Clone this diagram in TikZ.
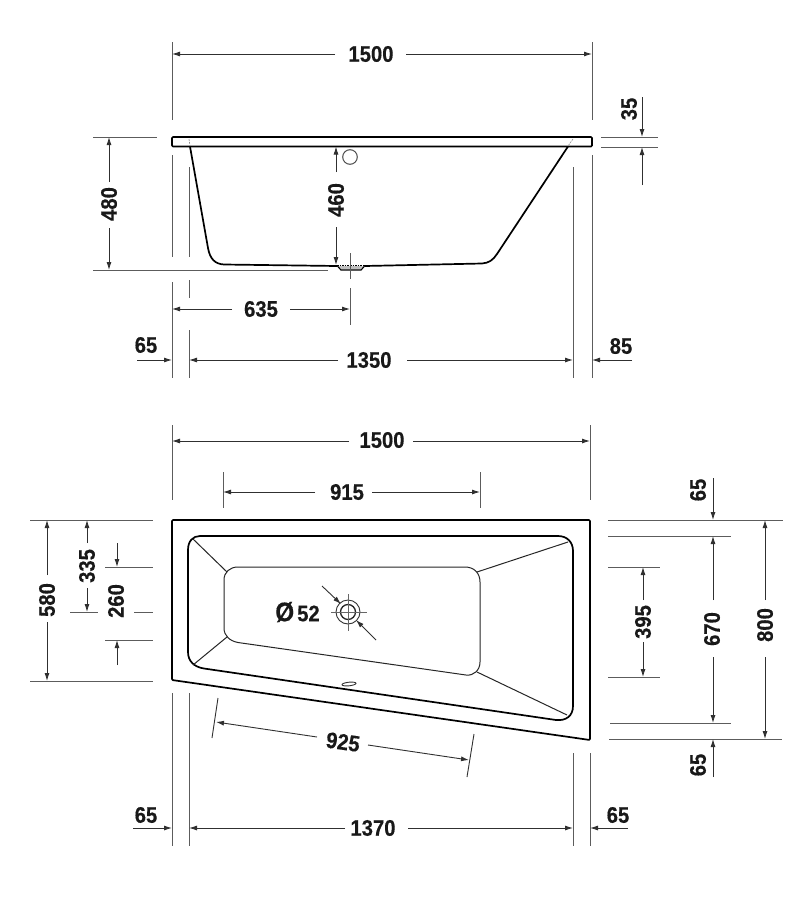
\documentclass[tikz,border=0pt]{standalone}
\usepackage{fontspec}
\setmainfont{Liberation Sans}[FakeStretch=0.9,BoldFeatures={FakeBold=0.35}]
\usetikzlibrary{arrows.meta}
\definecolor{dimc}{HTML}{303030}
\definecolor{extc}{HTML}{5C5C5C}
\tikzset{
  x=1pt,y=-1pt,
  outl/.style={line width=1.7pt,black,line join=round},
  thin outl/.style={line width=1pt,black!85,line join=round},
  ext/.style={line width=1pt,extc},
  dimline/.style={line width=0.9pt,dimc},
  tip/.style={dimline,-{Latex[length=8pt,width=5pt]}},
  lab/.style={font=\fontsize{22.5}{22.5}\selectfont\bfseries,text=black!90,inner sep=0pt},
  vlab/.style={lab,rotate=90},
}
\begin{document}
\begin{tikzpicture}
\useasboundingbox[fill=white] (0,0) rectangle (810,900);

% ---------- side view ----------
\draw[outl,rounded corners=1pt] (172,137) rectangle (592,146.5);
\draw[outl] (190,146.5) -- (208,248) .. controls (210,259) and (215,264) .. (224,264.5)
  -- (337,266);
\draw[outl] (365,266) -- (482,263.5) .. controls (489,263) and (493,260) .. (497,254) -- (568,146.5);
\draw[line width=0.6pt,black!45,dash pattern=on 2pt off 1pt] (189,139) -- (190,146);
\draw[line width=0.6pt,black!45,dash pattern=on 2pt off 1pt] (573,139) -- (568,146);
\fill[black!25] (339,266) -- (342,269.5) -- (360,269.5) -- (363,266) -- cycle;
\draw[line width=1.3pt,black,dash pattern=on 1.6pt off 1pt] (337,265.5) -- (365,265.5);
\draw[line width=1.2pt,black] (337,265.5) -- (341,270) -- (361,270) -- (365,265.5);
\draw[line width=1pt,black!70] (350,157) circle[radius=7.3];

% side-view extension lines
\draw[ext] (172,42) -- (172,120) (592,42) -- (592,120);
\draw[ext] (172,155) -- (172,257) (172,282) -- (172,378);
\draw[ext] (189,167) -- (189,257) (189,280) -- (189,298) (189,330) -- (189,378);
\draw[ext] (573,167) -- (573,378) (592,155) -- (592,378);
\draw[ext] (350,253) -- (350,279) (350,288) -- (350,325);
\draw[ext] (93,137) -- (157,137) (93,270) -- (328,270);
\draw[ext] (601,137) -- (658,137) (601,147) -- (658,147);

\node[lab] (a1500) at (371,54) {1500};
\draw[tip] (335,54) -- (172,54);
\draw[tip] (406,54) -- (592,54);

\node[vlab] (a35) at (629,109) {35};
\draw[tip] (642,97) -- (642,137);
\draw[tip] (642,185) -- (642,147);

\node[vlab] (a480) at (109,204) {480};
\draw[tip] (109,182) -- (109,137);
\draw[tip] (109,228) -- (109,270);

\node[vlab] (a460) at (336,200) {460};
\draw[tip] (336,172) -- (336,146.5);
\draw[tip] (336,227) -- (336,265);

\node[lab] (a635) at (261,309) {635};
\draw[tip] (232,309) -- (172,309);
\draw[tip] (290,309) -- (350,309);

\node[lab] (a65l) at (146,345) {65};
\draw[tip] (137,360) -- (172,360);
\node[lab] (a1350) at (369,360) {1350};
\draw[tip] (338,360) -- (189,360);
\draw[tip] (407,360) -- (573,360);
\node[lab] (a85) at (621,346) {85};
\draw[tip] (632,360) -- (592,360);

% ---------- plan view ----------
\draw[outl,rounded corners=1pt] (172,520) -- (590,520) -- (590,740) -- (172,680) -- cycle;
\draw[outl] (200,536) -- (558,536) .. controls (567,536) and (573,542) .. (573,551)
  -- (573,706) .. controls (573,716) and (566,721) .. (556,720)
  -- (204,668.5) .. controls (194,667) and (188,661) .. (188,652)
  -- (188,550) .. controls (188,541) and (193,536) .. (200,536) -- cycle;
\draw[thin outl] (238,567) -- (465,567) .. controls (474,567) and (480,573) .. (480,582)
  -- (480,662) .. controls (480,670) and (474,676) .. (466,675)
  -- (238,642.5) .. controls (230,641) and (224,636) .. (224,628)
  -- (224,580) .. controls (224,572) and (230,567) .. (238,567) -- cycle;
\draw[thin outl] (193,539) -- (227,572) (193,665) -- (227,637)
  (568,542) -- (477,572) (567,715) -- (477,672);
\draw[line width=0.9pt,black!80,rotate around={6:(349,684)}] (349,684) ellipse[x radius=7,y radius=1.8];

% drain
\draw[line width=0.9pt,black!80] (348,612) circle[radius=12];
\draw[line width=1.3pt,black!85] (348,612) circle[radius=7.5];
\draw[line width=0.7pt,black!60] (331,612) -- (367,612) (348,594) -- (348,631);
\node[lab] (d52) at (297.5,612) {{\fontsize{27}{27}\selectfont Ø}\hspace{3pt}52};
\draw[tip] (322,586) -- (341,604);
\draw[tip] (376,640) -- (356,620);

% plan-view extension lines
\draw[ext] (172,425) -- (172,500) (590,425) -- (590,500);
\draw[ext] (223,472) -- (223,508) (480,472) -- (480,508);
\draw[ext] (172,693) -- (172,846) (189,693) -- (189,846);
\draw[ext] (573,753) -- (573,846) (590,753) -- (590,846);
\draw[ext] (30,520) -- (153,520) (30,681) -- (153,681);
\draw[ext] (105,567) -- (153,567) (105,640) -- (153,640);
\draw[ext] (70,612) -- (98,612) (134,612) -- (153,612);
\draw[ext] (608,520) -- (783,520) (608,536) -- (731,536);
\draw[ext] (608,567) -- (660,567) (608,677) -- (660,677);
\draw[ext] (610,723) -- (731,723) (609,739) -- (782,739);

\node[lab] (b1500) at (382,440) {1500};
\draw[tip] (349,441) -- (172,441);
\draw[tip] (413,441) -- (590,441);

\node[lab] (b915) at (347,492) {915};
\draw[tip] (315,492) -- (223,492);
\draw[tip] (372,492) -- (480,492);

\node[vlab] (b580) at (47,600) {580};
\draw[tip] (47,575) -- (47,520);
\draw[tip] (47,622) -- (47,681);

\node[vlab] (b335) at (87,566) {335};
\draw[tip] (87,543) -- (87,520);
\draw[tip] (87,588) -- (87,612);

\node[vlab] (b260) at (116,601) {260};
\draw[tip] (117,543) -- (117,567);
\draw[tip] (117,665) -- (117,640);

\node[vlab] (b395) at (643,622) {395};
\draw[tip] (643,600) -- (643,567);
\draw[tip] (643,642) -- (643,677);

\node[vlab] (b670) at (712,629) {670};
\draw[tip] (713,600) -- (713,536);
\draw[tip] (713,657) -- (713,723);

\node[vlab] (b800) at (765,625) {800};
\draw[tip] (765,600) -- (765,520);
\draw[tip] (765,657) -- (765,739);

\node[vlab] (b65t) at (698,490) {65};
\draw[tip] (713,478) -- (713,520);
\node[vlab] (b65b) at (698,765) {65};
\draw[tip] (713,777) -- (713,739);

% 925 slanted dimension
\draw[line width=0.9pt,dimc] (218,698) -- (212,738) (474,734) -- (467,777);
\node[lab,rotate=-8] (b925) at (343,742) {925};
\draw[tip] (317,737) -- (216,722);
\draw[tip] (368,745) -- (469,760);

\node[lab] (b65l) at (146,815) {65};
\draw[tip] (133,828) -- (172,828);
\node[lab] (b1370) at (373,828) {1370};
\draw[tip] (345,828) -- (189,828);
\draw[tip] (408,828) -- (573,828);
\node[lab] (b65r) at (618,815) {65};
\draw[tip] (628,828) -- (590,828);
\end{tikzpicture}
\end{document}
